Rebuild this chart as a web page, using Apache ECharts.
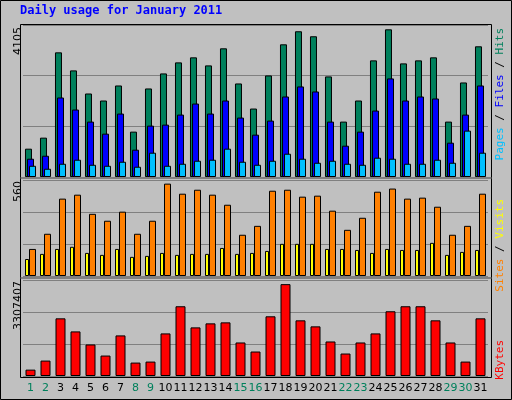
<!DOCTYPE html>
<html><head><meta charset="utf-8">
<script src="https://cdn.jsdelivr.net/npm/echarts@6/dist/echarts.min.js"></script>
<style>html,body{margin:0;padding:0;background:#c0c0c0}#c{width:512px;height:400px}</style>
</head><body><div id="c"></div>
<script>
const days = Array.from({length:31},(_,i)=>String(i+1));
const weekend = [1,2,8,9,15,16,22,23,29,30];
const hits = [787,1094,3465,2963,2321,2126,2544,1261,2461,2879,3186,3326,3102,3577,2600,1903,2823,3688,4051,3912,2796,1540,2126,3242,4105,3158,3242,3326,1540,2628,3633];
const files = [508,591,2210,1875,1540,1205,1763,759,1428,1456,1735,2042,1763,2126,1652,1177,1568,2238,2517,2377,1540,870,1261,1847,2740,2126,2238,2182,954,1735,2544];
const pages = [312,229,368,480,340,312,424,285,675,312,368,452,480,787,424,340,452,647,508,396,452,368,340,536,508,368,368,480,396,1289,675];
const visits = [103,134,164,177,140,128,164,116,122,140,128,134,134,170,134,140,152,195,195,195,164,164,158,140,164,158,158,201,128,146,158];
const sites = [164,256,469,493,377,335,390,256,335,560,499,523,493,432,250,304,517,523,481,487,396,280,353,511,530,469,475,420,250,304,499];
const kbytes = [229000,555000,2076000,1605000,1135000,736000,1461000,483000,519000,1533000,2511000,1750000,1895000,1931000,1207000,881000,2149000,3307407,2004000,1787000,1243000,809000,1207000,1533000,2330000,2511000,2511000,2004000,1207000,519000,2076000];

const grids=[{left:23,width:465,top:25,height:152},{left:23,width:465,top:180,height:96},{left:23,width:465,top:280,height:96}];
const maxes=[4225,582,3456000];
function xa(i){return {type:'category',gridIndex:i,data:days,axisTick:{show:false},axisLine:{show:false},
  axisLabel:{show:i===2,margin:7,fontFamily:'DejaVu Sans',fontSize:11,interval:0,
    color:(v)=>weekend.includes(+v)?'#00805c':'#000'}}}
function ya(i){return {type:'value',gridIndex:i,min:0,max:maxes[i],interval:maxes[i]/3,axisLabel:{show:false},axisLine:{show:false},axisTick:{show:false},
  splitLine:{show:true,lineStyle:{color:'#808080',width:1}}}}
const bs={borderColor:'#000',borderWidth:1};
const chart=echarts.init(document.getElementById('c'));
const mono='DejaVu Sans Mono';
chart.setOption({
  animation:false,backgroundColor:'#c0c0c0',
  grid:grids,
  xAxis:[xa(0),xa(1),xa(2)],
  yAxis:[ya(0),ya(1),ya(2)],
  series:[
    {name:'Hits',type:'bar',xAxisIndex:0,yAxisIndex:0,data:hits,barWidth:7,barGap:'-71%',itemStyle:{color:'#00805c',...bs}},
    {name:'Files',type:'bar',xAxisIndex:0,yAxisIndex:0,data:files,barWidth:7,barGap:'-71%',itemStyle:{color:'#0000ff',...bs}},
    {name:'Pages',type:'bar',xAxisIndex:0,yAxisIndex:0,data:pages,barWidth:7,barGap:'-71%',itemStyle:{color:'#00c0ff',...bs}},
    {name:'Visits',type:'bar',xAxisIndex:1,yAxisIndex:1,data:visits,barWidth:4,barGap:'0%',itemStyle:{color:'#ffff00',...bs}},
    {name:'Sites',type:'bar',xAxisIndex:1,yAxisIndex:1,data:sites,barWidth:7,barGap:'0%',itemStyle:{color:'#ff8000',...bs}},
    {name:'KBytes',type:'bar',xAxisIndex:2,yAxisIndex:2,data:kbytes,barWidth:10,itemStyle:{color:'#ff0000',...bs}}
  ],
  graphic:[
    {type:'rect',shape:{x:0.5,y:0.5,width:511,height:399},style:{fill:null,stroke:'#000',lineWidth:1},z:-1},
    {type:'rect',shape:{x:20.5,y:24.5,width:471,height:153},style:{fill:null,stroke:'#000',lineWidth:1},z:10},
    {type:'rect',shape:{x:20.5,y:178.5,width:471,height:99},style:{fill:null,stroke:'#000',lineWidth:1},z:10},
    {type:'rect',shape:{x:20.5,y:278.5,width:471,height:99},style:{fill:null,stroke:'#000',lineWidth:1},z:10},
    {type:'line',shape:{x1:21,y1:178,x2:491,y2:178},style:{stroke:'#fff',lineWidth:1},z:11},
    {type:'line',shape:{x1:21,y1:278,x2:491,y2:278},style:{stroke:'#fff',lineWidth:1},z:11},
    {type:'text',left:20,top:5,style:{text:'Daily usage for January 2011',font:'bold 12px "DejaVu Sans Mono"',fill:'#0000ff'}},
    {type:'text',x:18,y:27,rotation:Math.PI/2,style:{text:'4105',font:'11px "DejaVu Sans"',fill:'#000',align:'right',verticalAlign:'middle'}},
    {type:'text',x:18,y:181,rotation:Math.PI/2,style:{text:'560',font:'11px "DejaVu Sans"',fill:'#000',align:'right',verticalAlign:'middle'}},
    {type:'text',x:18,y:281,rotation:Math.PI/2,style:{text:'3307407',font:'11px "DejaVu Sans"',fill:'#000',align:'right',verticalAlign:'middle'}},
    {type:'text',x:500,y:28,rotation:Math.PI/2,style:{text:'{p|Pages} {s|/} {f|Files} {s|/} {h|Hits}',font:'11px "DejaVu Sans Mono"',align:'right',verticalAlign:'middle',
      rich:{p:{fill:'#00c0ff',font:'11px "DejaVu Sans Mono"'},f:{fill:'#0000ff',font:'11px "DejaVu Sans Mono"'},h:{fill:'#00805c',font:'11px "DejaVu Sans Mono"'},s:{fill:'#000',font:'11px "DejaVu Sans Mono"'}}}},
    {type:'text',x:500,y:199,rotation:Math.PI/2,style:{text:'{o|Sites} {s|/} {y|Visits}',font:'11px "DejaVu Sans Mono"',align:'right',verticalAlign:'middle',
      rich:{o:{fill:'#ff8000',font:'11px "DejaVu Sans Mono"'},y:{fill:'#ffff00',font:'11px "DejaVu Sans Mono"'},s:{fill:'#000',font:'11px "DejaVu Sans Mono"'}}}},
    {type:'text',x:500,y:340,rotation:Math.PI/2,style:{text:'KBytes',font:'11px "DejaVu Sans Mono"',fill:'#ff0000',align:'right',verticalAlign:'middle'}}
  ]
});
</script></body></html>
